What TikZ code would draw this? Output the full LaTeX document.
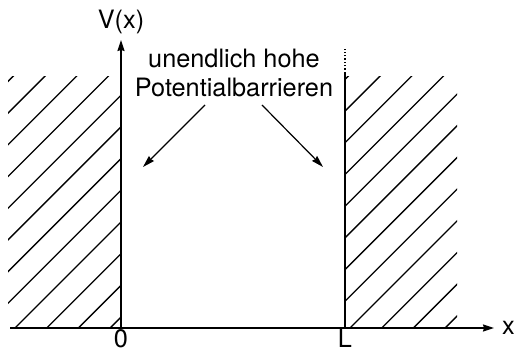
\documentclass[tikz,border=0pt]{standalone}
\usepackage{fontspec}
\setmainfont{TeX Gyre Heros}
\usepackage{tikz}
\usetikzlibrary{arrows.meta,calc}
\tikzset{
  axis/.style={line width=1.3pt, -{Stealth[length=11pt, width=7pt, inset=1pt]}},
  wall/.style={line width=1.3pt},
  hatch/.style={line width=1.3pt},
  arr/.style={line width=1.2pt, -{Stealth[length=12pt, width=7pt, inset=1pt]}},
  lbl/.style={font=\fontsize{25.3}{29}\selectfont, inner sep=0pt},
}

\begin{document}
\begin{tikzpicture}[x=1pt, y=1pt]
  \useasboundingbox (0,0) rectangle (515,351);
  % axes
  \coordinate (O) at (121,23);
  \coordinate (L) at (345,23);
  \coordinate (xend) at (494,23);
  \coordinate (xstart) at (10,23);
  \coordinate (ytop) at (121,311);
  \draw[axis] (xstart) -- (xend);
  \draw[axis] (O) -- (ytop);
  \node[lbl, anchor=west] (xlab) at (502,23) {x};
  \node[lbl, anchor=base] (ylab) at (121,322) {V(x)};
  \node[lbl, anchor=base] (zero) at (O |- 0,3) {0};
  \node[lbl, anchor=base] (llab) at (L |- 0,3) {L};
  % right wall with dotted continuation
  \coordinate (Ltop) at (345,278);
  \coordinate (Ldot) at (345,303);
  \draw[wall] (L) -- (Ltop);
  \draw[wall, dotted] (Ltop) -- (Ldot);
  % hatched barriers
  \begin{scope}
    \clip (8,23) rectangle (121,274);
    \foreach \k in {-8,...,3}
      \draw[hatch] ({15+31.7*\k},23) -- ++(260,260);
  \end{scope}
  \begin{scope}
    \clip (345,23) rectangle (457,274);
    \foreach \k in {-8,...,3}
      \draw[hatch] ({350+31.7*\k},23) -- ++(260,260);
  \end{scope}
  % label and arrows
  \node[lbl, align=center, anchor=base] (barr) at (234,254)
       {unendlich hohe\\Potentialbarrieren};
  \coordinate (la) at (205,246);
  \coordinate (ra) at (262,246);
  \coordinate (lt) at (143,184);
  \coordinate (rt) at (323,184);
  \draw[arr] (la) -- (lt);
  \draw[arr] (ra) -- (rt);
\end{tikzpicture}
\end{document}
